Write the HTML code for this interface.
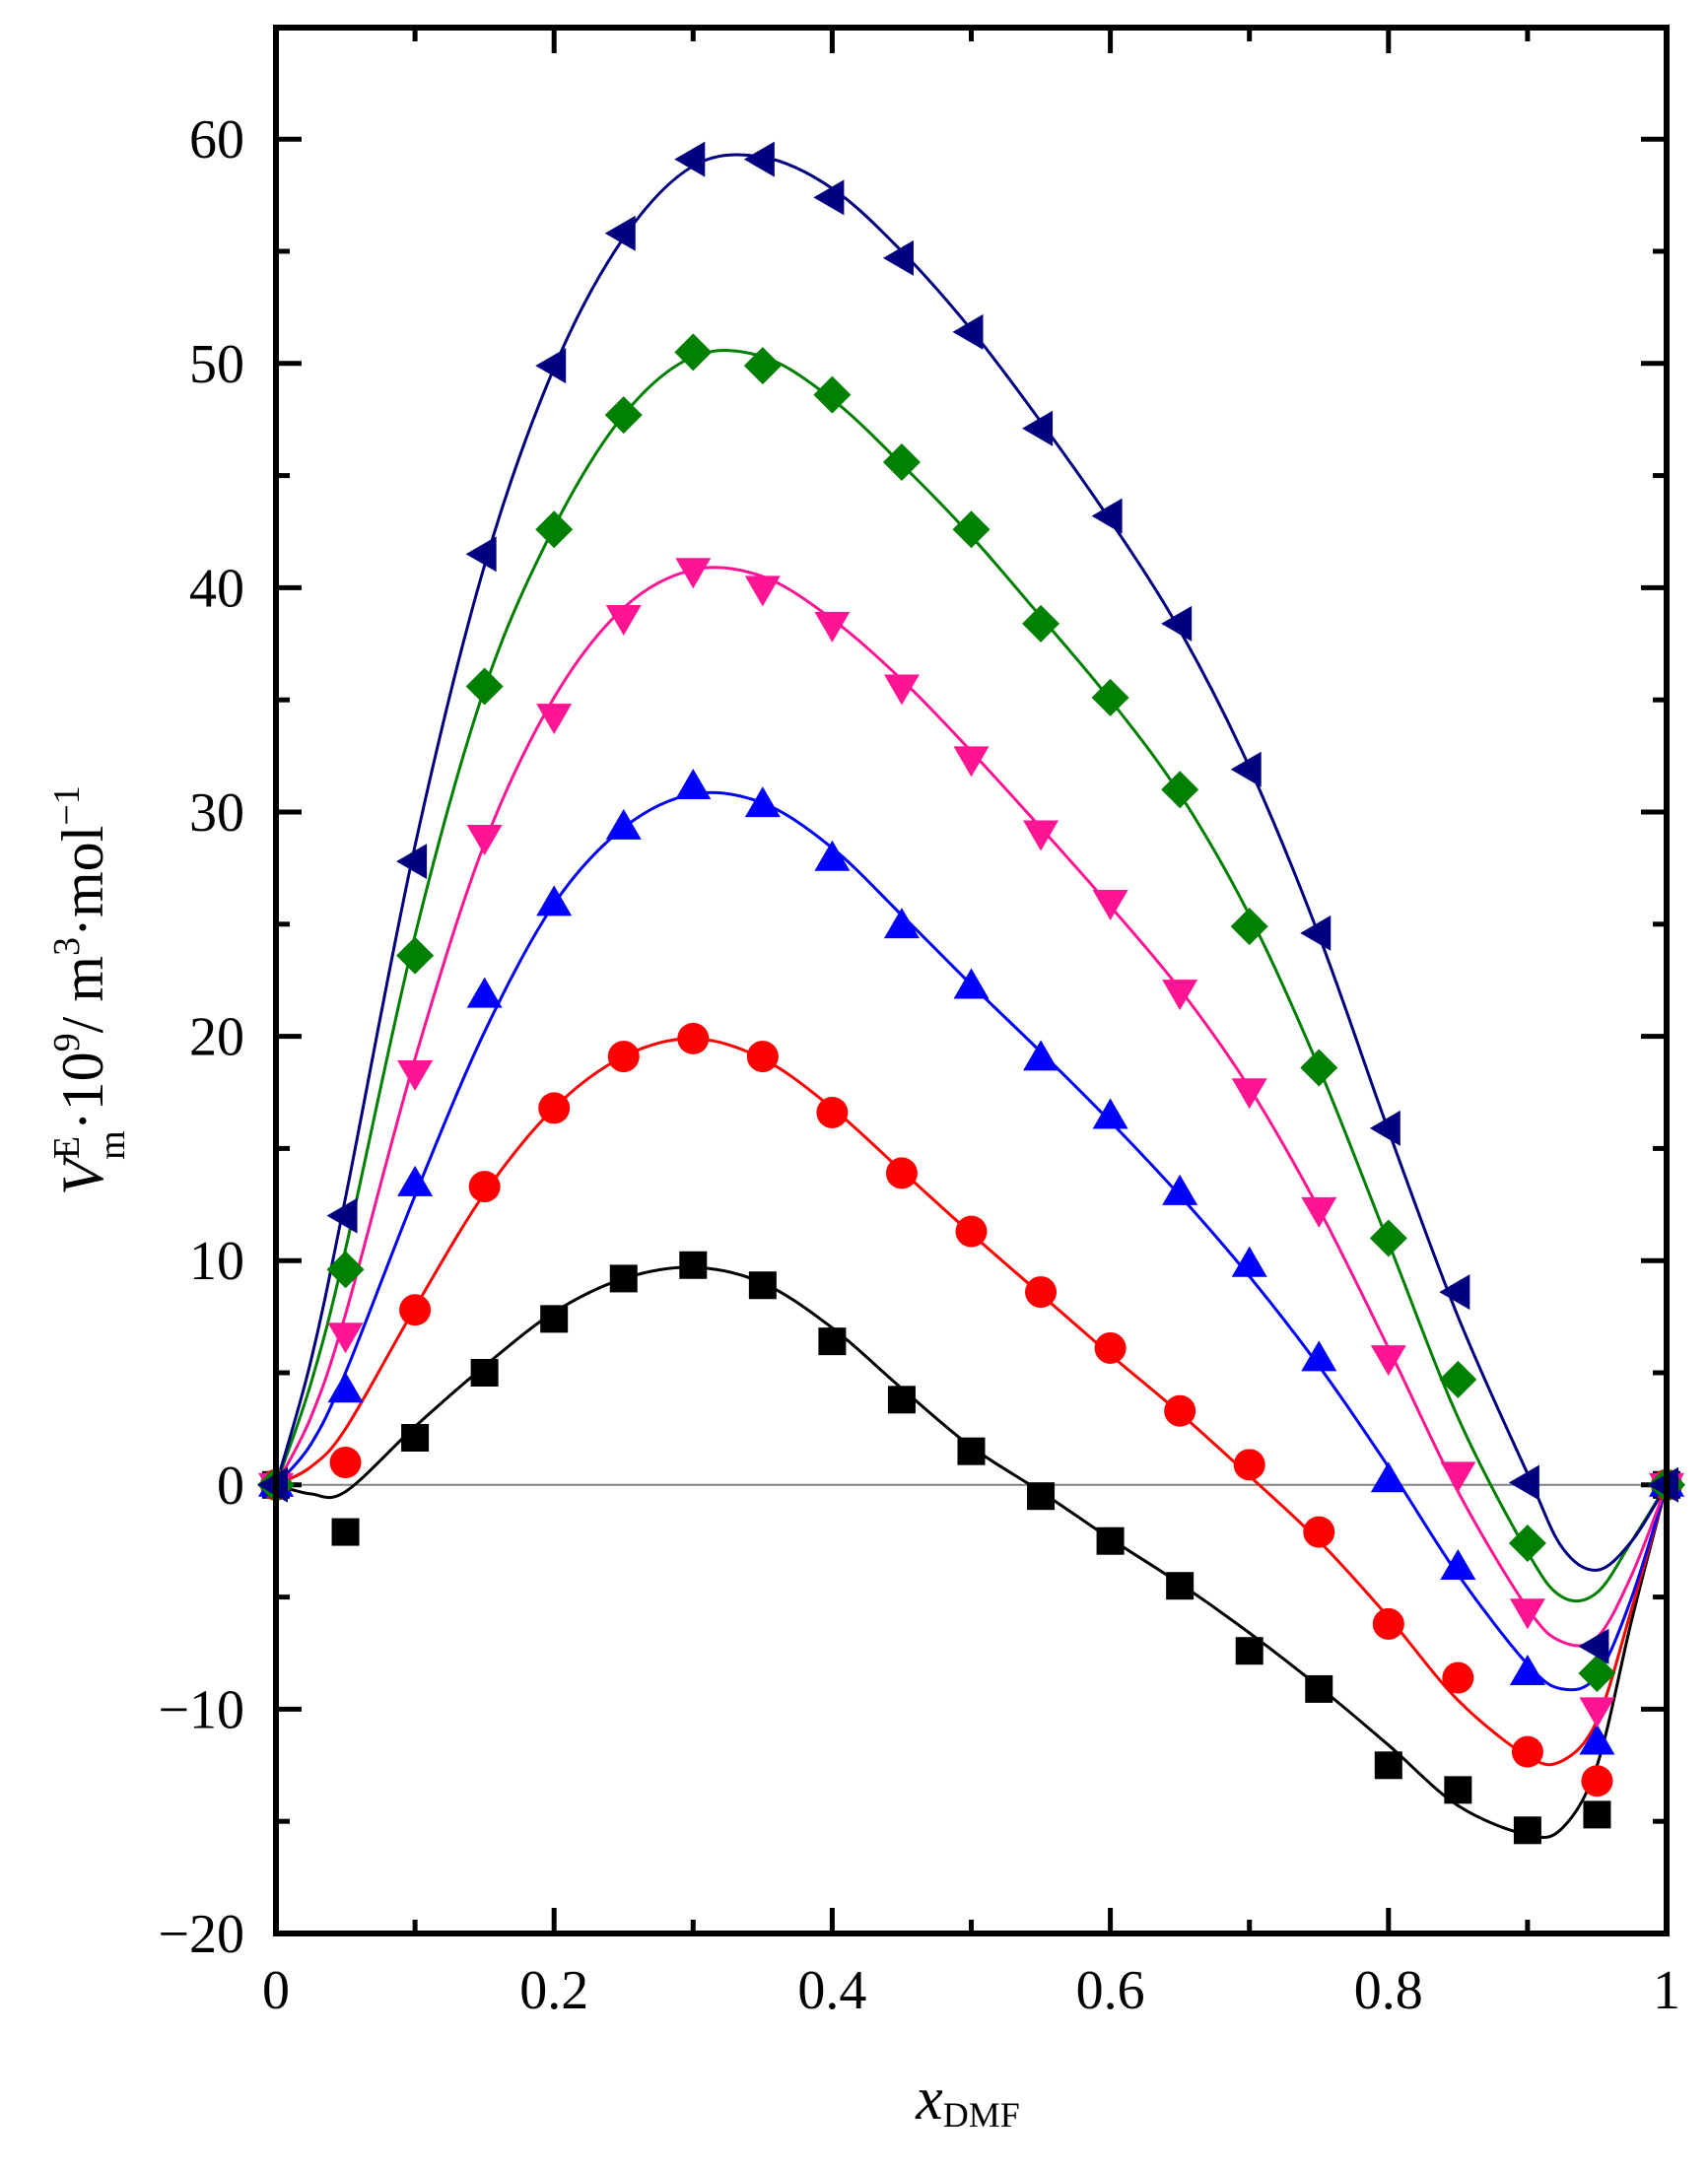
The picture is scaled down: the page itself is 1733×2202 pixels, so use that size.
<!DOCTYPE html>
<html><head><meta charset="utf-8"><style>body{margin:0;background:#fff}svg{display:block}</style></head>
<body>
<svg id="chart" width="1733" height="2202" viewBox="0 0 1733 2202" xmlns="http://www.w3.org/2000/svg" font-family="'Liberation Serif', serif">
<g id="plot"></g>
<text x="982" y="2150" font-size="62" text-anchor="middle"><tspan font-style="italic">x</tspan><tspan font-size="36" dy="8">DMF</tspan></text>
<text transform="translate(104,1005) rotate(-90)" font-size="60" text-anchor="middle"><tspan font-style="italic">V</tspan><tspan font-size="38" dy="-24">E</tspan><tspan font-size="38" dx="-24" dy="46">m</tspan><tspan dy="-22">·10</tspan><tspan font-size="38" dy="-24">9</tspan><tspan dy="24">/ m</tspan><tspan font-size="38" dy="-24">3</tspan><tspan dy="24">·mol</tspan><tspan font-size="38" dy="-24">−1</tspan></text>
</svg>
<script>
const xs = [0,0.05,0.1,0.15,0.2,0.25,0.3,0.35,0.4,0.45,0.5,0.55,0.6,0.65,0.7,0.75,0.8,0.85,0.9,0.95,1];
const sqData = [0,-2.1,2.1,5.0,7.4,9.2,9.8,8.9,6.4,3.8,1.5,-0.5,-2.5,-4.5,-7.4,-9.1,-12.5,-13.6,-15.4,-14.7,0];
const circData = [0,1.0,7.8,13.3,16.8,19.1,19.9,19.1,16.6,13.9,11.3,8.6,6.1,3.3,0.9,-2.1,-6.2,-8.6,-11.9,-13.2,0];
const upData = [0,4.2,13.4,21.8,25.9,29.3,31.1,30.3,27.9,24.9,22.2,19.0,16.4,13.0,9.8,5.6,0.2,-3.7,-8.4,-11.5,0];
const downData = [0,6.7,18.4,28.9,34.3,38.7,40.8,40.0,38.4,35.6,32.4,29.1,26.0,22.0,17.6,12.3,5.7,0.5,-5.6,-10.0,0];
const diaData = [0,9.6,23.6,35.6,42.6,47.7,50.5,49.9,48.6,45.6,42.6,38.4,35.1,31.0,24.9,18.6,11.0,4.7,-2.6,-8.4,0];
const leftData = [0,12.0,27.8,41.5,49.9,55.8,59.1,59.1,57.4,54.7,51.4,47.1,43.2,38.4,31.9,24.6,15.9,8.6,0.1,-7.2,0];
const fitX = [0,0.025,0.05,0.1,0.15,0.2,0.25,0.3,0.35,0.4,0.45,0.5,0.55,0.6,0.65,0.7,0.75,0.8,0.85,0.9,0.925,0.95,0.975,1];
const sqFit = [0,-0.4,-0.3,2.6,5.3,7.7,9.2,9.7,9.0,7.0,4.3,1.7,-0.3,-2.4,-4.4,-6.6,-9.0,-11.6,-14.3,-15.6,-15.3,-12.5,-6,0];
const circFit = [0,0.8,2.5,7.9,13.0,16.8,19.1,19.9,19.0,16.8,14.0,11.2,8.5,5.8,3.2,0.4,-2.5,-5.9,-9.6,-12.1,-12.3,-10.5,-5.5,0];
const upFit = [0,1.8,5.0,12.9,20.2,25.9,29.3,30.8,30.4,28.4,25.4,22.3,19.3,16.2,12.9,9.3,5.3,0.8,-4.0,-8.0,-9.1,-8.5,-5,0];
const downFit = [0,3,7.6,19.0,28.6,35.1,39.1,40.8,40.5,38.6,35.9,32.7,29.3,25.8,22.1,17.7,12.3,6.1,-0.3,-5.5,-7.0,-6.8,-4,0];
const diaFit = [0,4.5,10.5,24.5,35.5,42.7,47.7,50.3,50.3,48.4,45.5,42.3,38.7,35.0,30.8,25.4,18.6,10.8,3.0,-3.0,-5.0,-4.8,-2.5,0];
const leftFit = [0,5.5,12.8,28.5,41.0,49.8,55.6,58.8,59.2,57.8,55.0,51.5,47.4,43.0,38.1,32.0,24.5,15.8,7.5,0.5,-2.8,-3.8,-2.5,0];
const xTicks = [0,0.2,0.4,0.6,0.8,1];
const xTickLabels = ["0","0.2","0.4","0.6","0.8","1"];
const yTicks = [-20,-10,0,10,20,30,40,50,60];
const yTickLabels = ["−20","−10","0","10","20","30","40","50","60"];

const L=280,R=1691,T=28,B=1962,YU=22.76,Y0=B-20*YU;
const sx=v=>L+v*(R-L);
const sy=v=>Y0-v*YU;
const NS='http://www.w3.org/2000/svg';
const plot=document.getElementById('plot');
function mk(tag,attrs){const e=document.createElementNS(NS,tag);for(const k in attrs)e.setAttribute(k,attrs[k]);plot.appendChild(e);return e;}

let z=mk('line',{x1:L,x2:R,y1:sy(0),y2:sy(0),stroke:'#808080','stroke-width':2});



for(let i=0;i<=10;i++){const v=i/10,len=(i%2==0)?26:14;
 let t1=mk('line',{x1:sx(v),x2:sx(v),y1:B,y2:B-len,stroke:'#000','stroke-width':5});
 
 
 let t2=mk('line',{x1:sx(v),x2:sx(v),y1:T,y2:T+len,stroke:'#000','stroke-width':5});
 
 
}
for(let v=-20;v<=60;v+=5){const len=(v%10==0)?26:14;
 let t1=mk('line',{x1:L,x2:L+len,y1:sy(v),y2:sy(v),stroke:'#000','stroke-width':5});
 
 
 let t2=mk('line',{x1:R,x2:R-len,y1:sy(v),y2:sy(v),stroke:'#000','stroke-width':5});
 
 
}
xTicks.forEach((v,i)=>{let t=mk('text',{x:sx(v),y:2038,'font-size':56,'text-anchor':'middle'});t.textContent=xTickLabels[i];
 
 });
yTicks.forEach((v,i)=>{let t=mk('text',{x:248,y:sy(v)+19,'font-size':56,'text-anchor':'end'});t.textContent=yTickLabels[i];
 
 });

function smooth(xa,ya){const p=xa.map((x,i)=>[sx(x),sy(ya[i])]);let d=`M${p[0][0]},${p[0][1]}`;
 for(let i=0;i<p.length-1;i++){const p0=p[Math.max(0,i-1)],p1=p[i],p2=p[i+1],p3=p[Math.min(p.length-1,i+2)];
  d+=` C${p1[0]+(p2[0]-p0[0])/6},${p1[1]+(p2[1]-p0[1])/6} ${p2[0]-(p3[0]-p1[0])/6},${p2[1]-(p3[1]-p1[1])/6} ${p2[0]},${p2[1]}`;}
 return d;}

const series=[
 {name:'square',fit:sqFit,data:sqData,color:'#000000'},
 {name:'circle',fit:circFit,data:circData,color:'#ff0000'},
 {name:'up-triangle',fit:upFit,data:upData,color:'#0000ff'},
 {name:'down-triangle',fit:downFit,data:downData,color:'#ff1493'},
 {name:'diamond',fit:diaFit,data:diaData,color:'#008000'},
 {name:'left-triangle',fit:leftFit,data:leftData,color:'#000080'}];
function marker(type,x,y,c){
 if(type==='square')return mk('rect',{x:x-14,y:y-14,width:28,height:28,fill:c});
 if(type==='circle')return mk('circle',{cx:x,cy:y,r:16,fill:c});
 if(type==='up-triangle')return mk('polygon',{points:`${x},${y-19} ${x-18},${y+12} ${x+18},${y+12}`,fill:c});
 if(type==='down-triangle')return mk('polygon',{points:`${x},${y+19} ${x-18},${y-12} ${x+18},${y-12}`,fill:c});
 if(type==='diamond')return mk('polygon',{points:`${x},${y-19} ${x+19},${y} ${x},${y+19} ${x-19},${y}`,fill:c});
 return mk('polygon',{points:`${x-19},${y} ${x+12},${y-18} ${x+12},${y+18}`,fill:c});
}
series.forEach(s=>{
 let p=mk('path',{d:smooth(fitX,s.fit),fill:'none',stroke:s.color,'stroke-width':3});
 
 
});
series.forEach(s=>{
 s.data.forEach((v,i)=>{let m=marker(s.name,sx(xs[i]),sy(v),s.color);
  
  });
});
let fr=mk('rect',{x:L,y:T,width:R-L,height:B-T,fill:'none',stroke:'#000','stroke-width':6});


</script>
</body></html>
